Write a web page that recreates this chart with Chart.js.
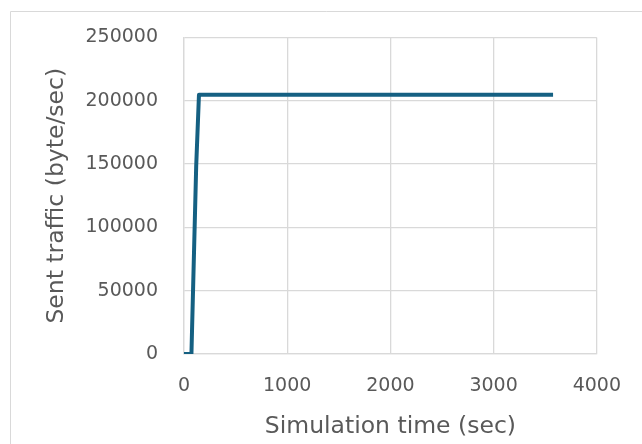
<!DOCTYPE html>
<html>
<head>
<meta charset="utf-8">
<script src="https://cdn.jsdelivr.net/npm/chart.js@4.4.1/dist/chart.umd.min.js"></script>
<style>
  html, body { margin: 0; padding: 0; background: #fff; overflow: hidden; }
  #wrap { width: 642px; height: 444px; position: relative; }
</style>
</head>
<body>
<div id="wrap"><canvas id="myChart" width="642" height="444"></canvas></div>
<script>
// sent traffic over simulation time
var timeSec = [0, 72, 118, 145, 3576];
var sentTraffic = [0, 0, 148000, 204800, 204800];
var xTicks = [0, 1000, 2000, 3000, 4000];
var yTicks = [0, 50000, 100000, 150000, 200000, 250000];

var points = timeSec.map(function (t, i) {
  return { x: t, y: sentTraffic[i] };
});

// light frame round the chart (left + top edge visible)
var framePlugin = {
  id: 'frame',
  beforeDraw: function (chart) {
    var ctx = chart.ctx;
    ctx.save();
    ctx.strokeStyle = '#d9d9d9';
    ctx.lineWidth = 1;
    ctx.beginPath();
    ctx.moveTo(10.5, 444);
    ctx.lineTo(10.5, 11.5);
    ctx.lineTo(642, 11.5);
    ctx.stroke();
    ctx.restore();
  },
};

var ctx = document.getElementById('myChart').getContext('2d');
var myChart = new Chart(ctx, {
  type: 'line',
  data: {
    datasets: [
      {
        label: 'Sent traffic',
        data: points,
        borderColor: '#156082',
        borderWidth: 4,
        borderJoinStyle: 'round',
        pointRadius: 0,
        tension: 0,
        fill: false,
      },
    ],
  },
  plugins: [framePlugin],
  options: {
    responsive: false,
    animation: false,
    layout: {
      padding: { left: 0, right: 44, top: 37.5, bottom: 0 },
    },
    plugins: {
      legend: { display: false },
      tooltip: { enabled: false },
    },
    scales: {
      x: {
        type: 'linear',
        min: xTicks[0],
        max: xTicks[xTicks.length - 1],
        afterBuildTicks: function (axis) {
          axis.ticks = xTicks.map(function (v) { return { value: v }; });
        },
        afterFit: function (axis) {
          axis.height = 90;
        },
        grid: {
          color: '#d9d9d9',
          lineWidth: 1.3,
          drawTicks: false,
        },
        border: { color: '#d9d9d9', width: 1.3 },
        ticks: {
          padding: 21,
          color: '#595959',
          font: { family: 'DejaVu Sans', size: 19 },
          maxRotation: 0,
          callback: function (v) { return String(v); },
        },
        title: {
          display: true,
          text: 'Simulation time (sec)',
          color: '#595959',
          font: { family: 'DejaVu Sans', size: 23.5 },
          padding: { top: 0, bottom: 3 },
        },
      },
      y: {
        min: yTicks[0],
        max: yTicks[yTicks.length - 1],
        afterBuildTicks: function (axis) {
          axis.ticks = yTicks.map(function (v) { return { value: v }; });
        },
        afterFit: function (axis) {
          axis.width = 184;
        },
        grid: {
          color: '#d9d9d9',
          lineWidth: 1.3,
          drawTicks: false,
        },
        border: { color: '#d9d9d9', width: 1.3 },
        ticks: {
          padding: 26,
          color: '#595959',
          font: { family: 'DejaVu Sans', size: 19 },
          callback: function (v) { return String(v); },
        },
        title: {
          display: true,
          text: 'Sent traffic (byte/sec)',
          color: '#595959',
          font: { family: 'DejaVu Sans', size: 23.5 },
          padding: { top: 43, bottom: 0 },
        },
      },
    },
  },
});
</script>
</body>
</html>
